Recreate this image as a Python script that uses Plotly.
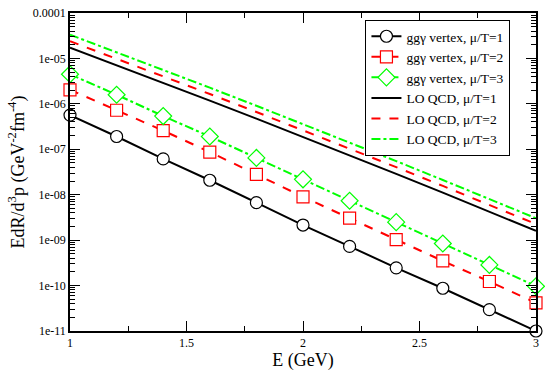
import plotly.graph_objects as go

E = [1.0, 1.2, 1.4, 1.6, 1.8, 2.0, 2.2, 2.4, 2.6, 2.8, 3.0]

ggg_mu1 = [5.65e-7, 1.91e-7, 6.15e-8, 2.08e-8, 6.69e-9, 2.15e-9, 7.28e-10, 2.46e-10, 8.73e-11, 2.95e-11, 1.0e-11]
ggg_mu2 = [2.04e-6, 7.23e-7, 2.57e-7, 8.69e-8, 2.79e-8, 9.0e-9, 3.04e-9, 1.03e-9, 3.48e-10, 1.23e-10, 4.17e-11]
ggg_mu3 = [4.48e-6, 1.59e-6, 5.38e-7, 1.91e-7, 6.46e-8, 2.18e-8, 7.38e-9, 2.49e-9, 8.43e-10, 2.85e-10, 9.64e-11]

lo_mu1 = [1.72e-5, 7.11e-6, 2.91e-6, 1.18e-6, 4.73e-7, 1.88e-7, 7.38e-8, 2.87e-8, 1.11e-8, 4.24e-9, 1.60e-9]
lo_mu2 = [2.39e-5, 9.91e-6, 4.06e-6, 1.65e-6, 6.62e-7, 2.63e-7, 1.04e-7, 4.05e-8, 1.56e-8, 5.97e-9, 2.26e-9]
lo_mu3 = [3.33e-5, 1.37e-5, 5.61e-6, 2.27e-6, 9.08e-7, 3.60e-7, 1.41e-7, 5.49e-8, 2.11e-8, 8.05e-9, 3.04e-9]

names = ["ggγ vertex, μ/T=1", "ggγ vertex, μ/T=2", "ggγ vertex, μ/T=3",
         "LO QCD, μ/T=1", "LO QCD, μ/T=2", "LO QCD, μ/T=3"]

x_tickvals = [1, 1.5, 2, 2.5, 3]
x_ticktext = ["1", "1.5", "2", "2.5", "3"]
y_tickvals = [1e-4, 1e-5, 1e-6, 1e-7, 1e-8, 1e-9, 1e-10, 1e-11]
y_ticktext = ["0.0001", "1e-05", "1e-06", "1e-07", "1e-08", "1e-09", "1e-10", "1e-11"]

BLACK = "#000000"
RED = "#ff0000"
GREEN = "#00ff00"
FONT = "Liberation Serif"

fig = go.Figure()

marker_series = [
    (ggg_mu1, BLACK, "solid", "circle", 12),
    (ggg_mu2, RED, "dash", "square", 12),
    (ggg_mu3, GREEN, "dashdot", "diamond", 13),
]
for (ys, col, dash, sym, sz), nm in zip(marker_series, names[:3]):
    fig.add_trace(go.Scatter(
        x=E, y=ys, name=nm, mode="lines+markers",
        line=dict(color=col, width=2, dash=dash),
        marker=dict(symbol=sym, size=sz, color="white", line=dict(color=col, width=1.2)),
        cliponaxis=False,
    ))

line_series = [
    (lo_mu1, BLACK, "solid"),
    (lo_mu2, RED, "dash"),
    (lo_mu3, GREEN, "dashdot"),
]
for (ys, col, dash), nm in zip(line_series, names[3:]):
    fig.add_trace(go.Scatter(
        x=E, y=ys, name=nm, mode="lines",
        line=dict(color=col, width=2, dash=dash),
    ))

fig.update_layout(
    width=545, height=371,
    margin=dict(l=70, r=6, t=6, b=38),
    paper_bgcolor="white", plot_bgcolor="white",
    font=dict(family=FONT, color="black", size=12),
    showlegend=True,
    legend=dict(
        x=0.634, y=0.978, xanchor="left", yanchor="top",
        bgcolor="white", bordercolor="black", borderwidth=1,
        font=dict(family=FONT, size=13.5, color="black"),
        tracegroupgap=0, itemwidth=30,
    ),
)

fig.update_xaxes(
    range=[1, 3], tickvals=x_tickvals, ticktext=x_ticktext,
    ticks="inside", ticklen=10, tickwidth=1, tickcolor="black",
    showline=True, linecolor="black", linewidth=1.5, mirror="allticks",
    showgrid=False, zeroline=False,
    tickfont=dict(family=FONT, size=12),
    minor=dict(ticks="inside", ticklen=5, dtick=0.25, tickcolor="black", showgrid=False),
    title=dict(text="E (GeV)", font=dict(family=FONT, size=18), standoff=2),
)

fig.update_yaxes(
    type="log", range=[-11, -4], tickvals=y_tickvals, ticktext=y_ticktext,
    ticks="inside", ticklen=10, tickwidth=1, tickcolor="black",
    showline=True, linecolor="black", linewidth=1.5, mirror="allticks",
    showgrid=False, zeroline=False,
    tickfont=dict(family=FONT, size=12),
    minor=dict(ticks="inside", ticklen=5, dtick="D1", tickcolor="black", showgrid=False),
    title=dict(text="EdR/d<sup>3</sup>p (GeV<sup>-2</sup>fm<sup>-4</sup>)", font=dict(family=FONT, size=18), standoff=4),
)

fig.write_html(
    "out.html",
    config={"displayModeBar": False},
    post_script="document.body.style.margin='0';document.body.style.padding='0';",
)
